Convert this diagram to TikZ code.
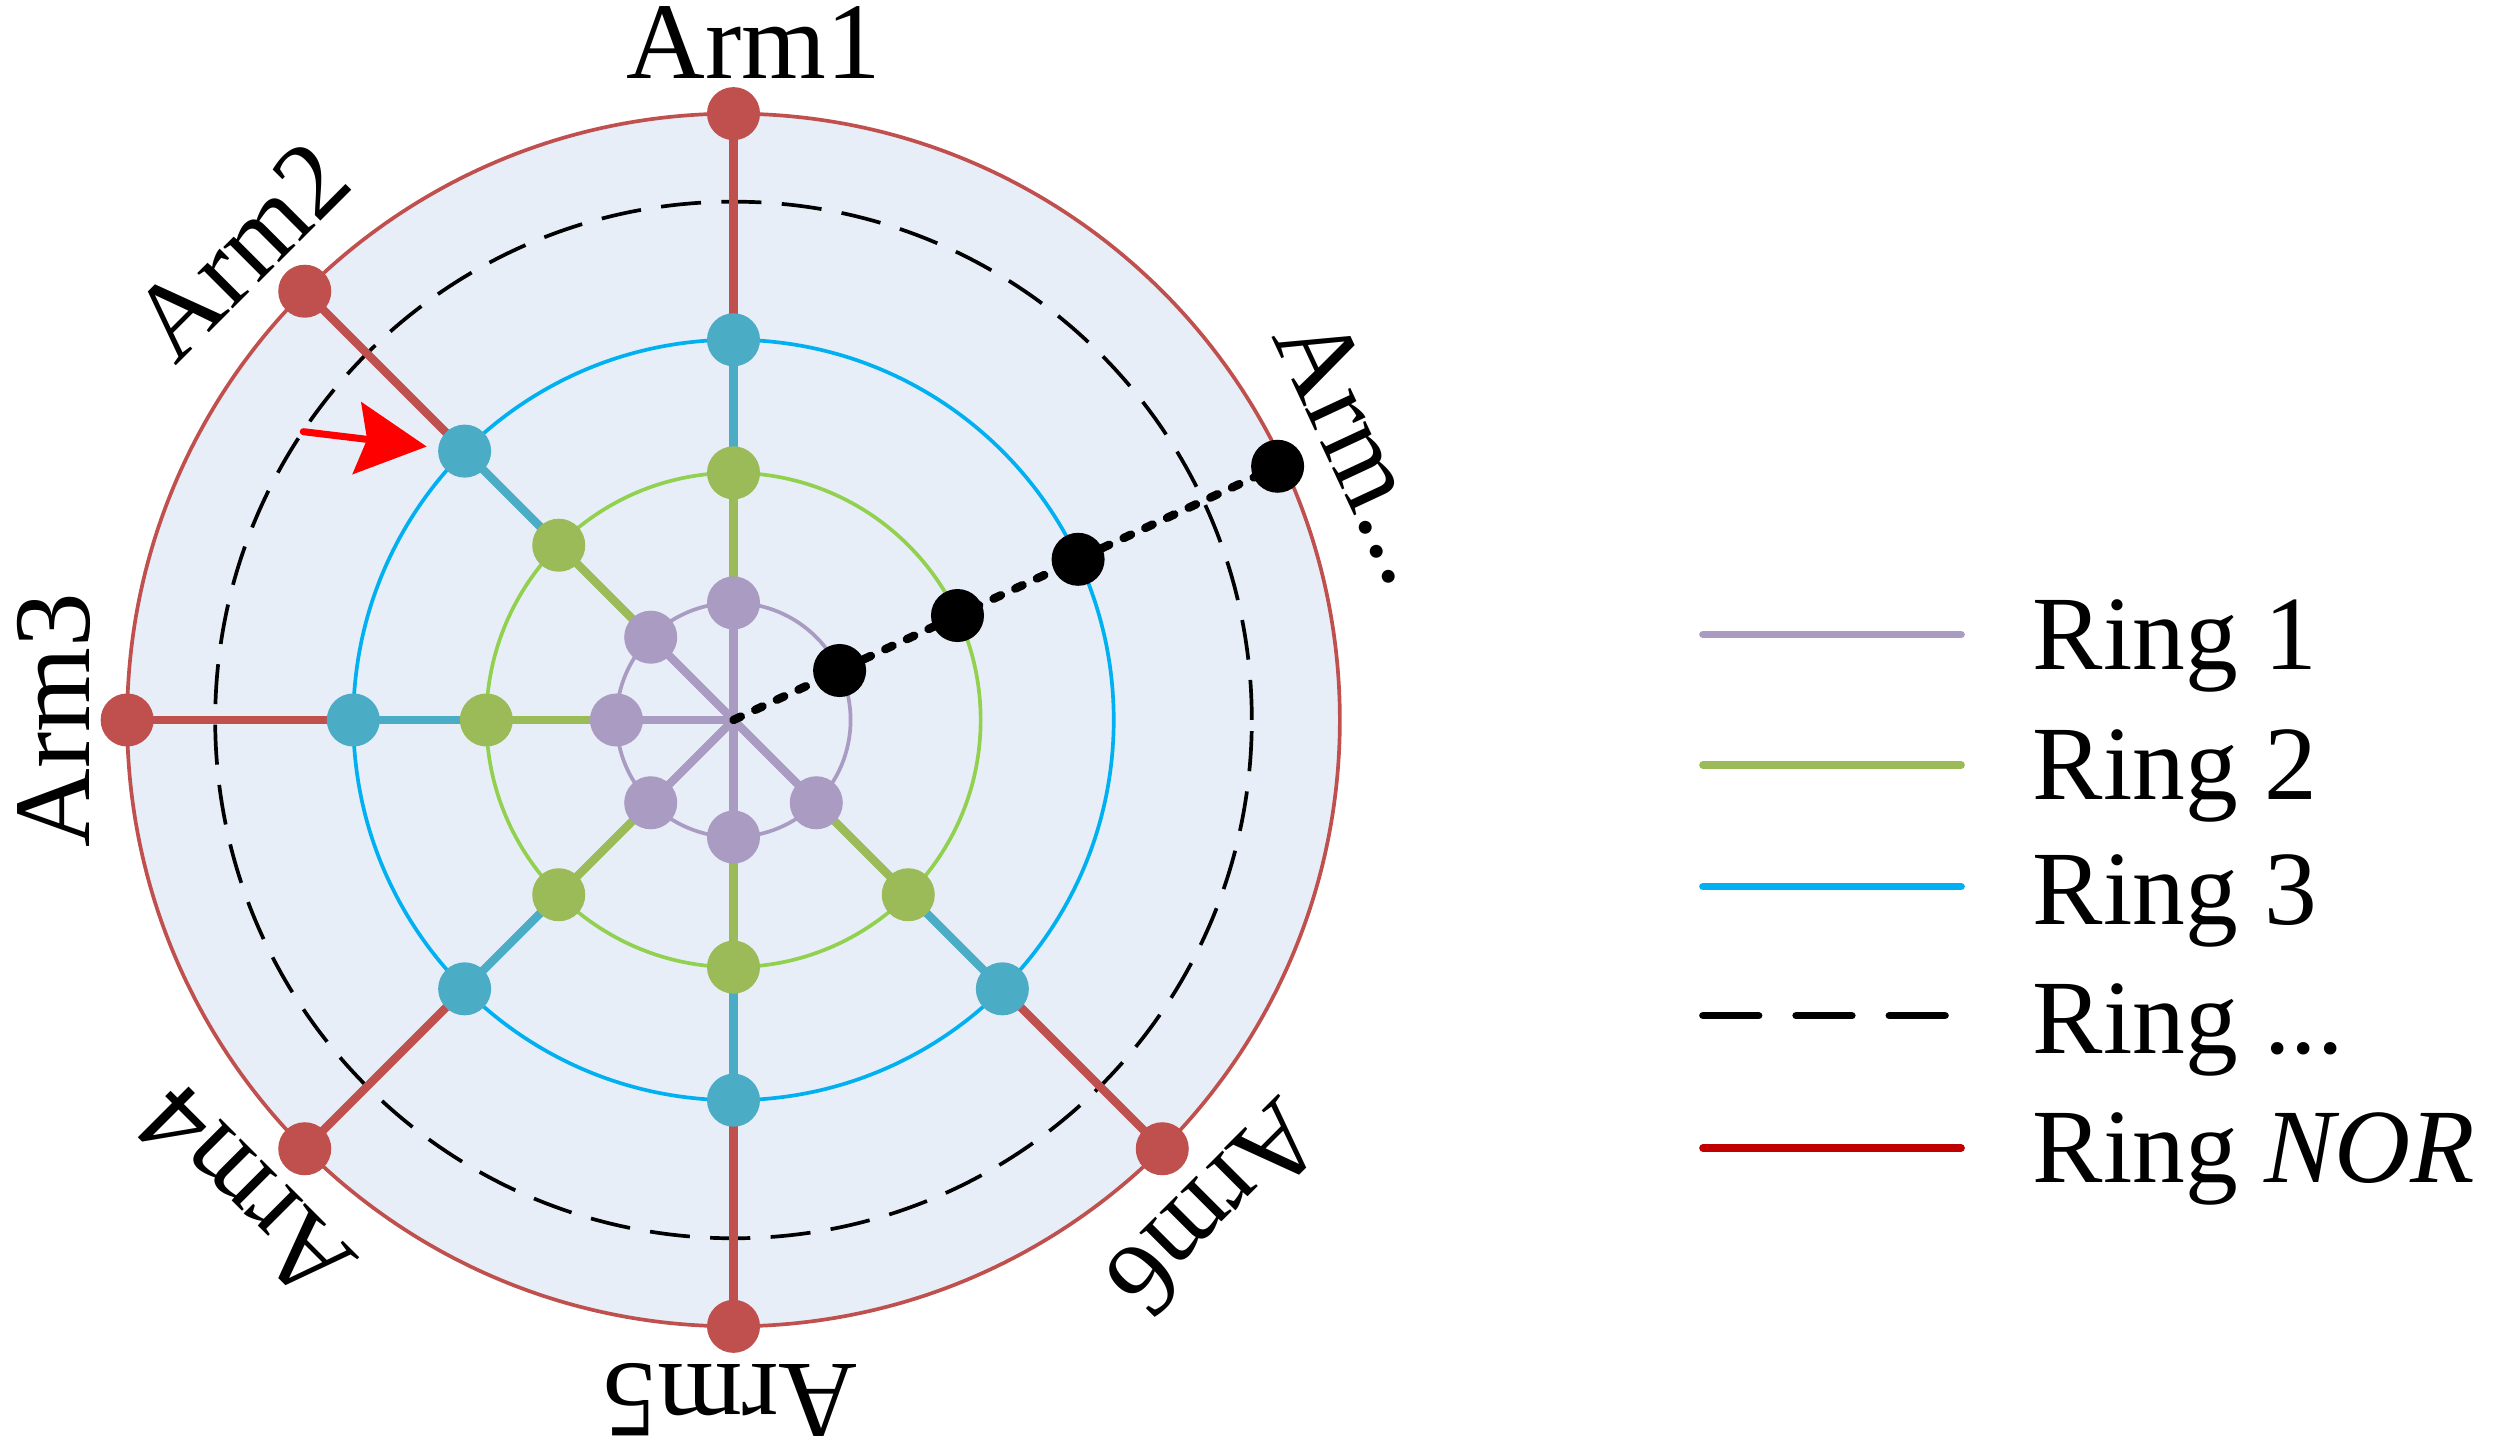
\documentclass[tikz,border=0pt]{standalone}
\usepackage{fontspec}
\setmainfont{Liberation Serif}
\usetikzlibrary{arrows.meta}
\pgfdeclarelayer{bg}
\pgfdeclarelayer{mid}
\pgfsetlayers{bg,mid,main}
\definecolor{cP}{HTML}{A99BC1}
\definecolor{cG}{HTML}{9BBB59}
\definecolor{cGr}{HTML}{92D050}
\definecolor{cB}{HTML}{4BACC6}
\definecolor{cBr}{HTML}{00B0F0}
\definecolor{cR}{HTML}{C0504D}
\definecolor{cRl}{HTML}{C00000}
\definecolor{cBg}{HTML}{E7EEF8}
\begin{document}
\begin{tikzpicture}[x=0.01cm,y=0.01cm,
  dot/.style={circle,draw=none,inner sep=0pt,minimum size=0.53cm},
  spoke/.style={line width=2.4pt},
  ringline/.style={line width=1.05pt},
  armlbl/.style={font=\fontsize{31}{37}\selectfont,inner sep=0pt},
  leglbl/.style={font=\fontsize{30}{36}\selectfont,inner sep=0pt,anchor=base west},
  legline/.style={line width=2.2pt,line cap=round},
  dotline/.style={line width=2.4pt,line cap=round,dash pattern=on 2.3pt off 4.5pt},
  redarrow/.style={line width=2pt,red,line cap=round,-{Stealth[length=0.7cm,width=0.72cm,inset=0.1cm]}}]
\useasboundingbox (0,0) rectangle (2500,1449);
\coordinate (O) at (733.5,729);
% background disc and rings
\begin{pgfonlayer}{bg}
  \fill[cBg] (O) circle[radius=6.06cm];
  \draw[ringline,cR] (O) circle[radius=6.06cm];
  \draw[ringline,black,dash pattern=on 11.4pt off 5.8pt] (O) circle[radius=5.18cm];
  \draw[ringline,cBr] (O) circle[radius=3.80cm];
  \draw[ringline,cGr] (O) circle[radius=2.47cm];
  \draw[ringline,cP] (O) circle[radius=1.17cm];
\end{pgfonlayer}
% dots on the six arms
\foreach \ang [count=\i] in {90,135,180,225,270,315} {
  \node[dot,fill=cP] (a\i-1) at ([shift={(\ang:1.17cm)}]O) {};
  \node[dot,fill=cG] (a\i-2) at ([shift={(\ang:2.47cm)}]O) {};
  \node[dot,fill=cB] (a\i-3) at ([shift={(\ang:3.80cm)}]O) {};
  \node[dot,fill=cR] (a\i-4) at ([shift={(\ang:6.06cm)}]O) {};
}
% black arm
\node[dot,fill=black] (b1) at ([shift={(25:1.17cm)}]O) {};
\node[dot,fill=black] (b2) at ([shift={(25:2.47cm)}]O) {};
\node[dot,fill=black] (b3) at ([shift={(25:3.80cm)}]O) {};
\node[dot,fill=black] (b4) at ([shift={(25:6.00cm)}]O) {};
% spokes
\begin{pgfonlayer}{mid}
\foreach \i in {1,...,6} {
  \draw[spoke,cP] (O) -- (a\i-1.center);
  \draw[spoke,cG] (a\i-1.center) -- (a\i-2.center);
  \draw[spoke,cB] (a\i-2.center) -- (a\i-3.center);
  \draw[spoke,cR] (a\i-3.center) -- (a\i-4.center);
}
\draw[dotline] (O) -- (b4.center);
\end{pgfonlayer}
% arm labels
\node[armlbl,anchor=base,rotate=0] (l1) at ([shift={(90:6.41cm)},shift={(0:0.2cm)}]O) {Arm1};
\node[armlbl,anchor=base,rotate=45] (l2) at ([shift={(135:6.44cm)},shift={(45:-0.17cm)}]O) {Arm2};
\node[armlbl,anchor=base,rotate=90] (l3) at ([shift={(180:6.44cm)}]O) {Arm3};
\node[armlbl,anchor=base,rotate=135] (l4) at ([shift={(225:6.44cm)},shift={(135:0.1cm)}]O) {Arm4};
\node[armlbl,anchor=base,rotate=180] (l5) at ([shift={(270:6.44cm)},shift={(180:0.03cm)}]O) {Arm5};
\node[armlbl,anchor=base,rotate=225] (l6) at ([shift={(315:6.5cm)},shift={(225:0.05cm)}]O) {Arm6};
\node[armlbl,anchor=base,rotate=-65] (l7) at ([shift={(25:6.49cm)},shift={(-65:0.2cm)}]O) {Arm...};
% red arrow
\coordinate (arrS) at (303.3,1017.3);
\draw[redarrow,shorten >=0.11cm] (arrS) -- (a2-3);
% legend
\coordinate (L1a) at (1703,814.4); \coordinate (L1b) at (1961,814.4);
\coordinate (L2a) at (1703,684);   \coordinate (L2b) at (1961,684);
\coordinate (L3a) at (1703,562.5); \coordinate (L3b) at (1961,562.5);
\coordinate (L4a) at (1703,433.4); \coordinate (L4b) at (1961,433.4);
\coordinate (L5a) at (1703,301);   \coordinate (L5b) at (1961,301);
\draw[legline,cP] (L1a) -- (L1b);
\draw[legline,cG] (L2a) -- (L2b);
\draw[legline,cBr] (L3a) -- (L3b);
\draw[legline,black,dash pattern=on 15.8pt off 10.7pt] (L4a) -- (L4b);
\draw[legline,cRl] (L5a) -- (L5b);
\node[leglbl] (t1) at (2032,779.4) {Ring 1};
\node[leglbl] (t2) at (2032,649) {Ring 2};
\node[leglbl] (t3) at (2032,524) {Ring 3};
\node[leglbl] (t4) at (2032,395) {Ring ...};
\node[leglbl] (t5) at (2032,266) {Ring \textit{NOR}};
\end{tikzpicture}
\end{document}
